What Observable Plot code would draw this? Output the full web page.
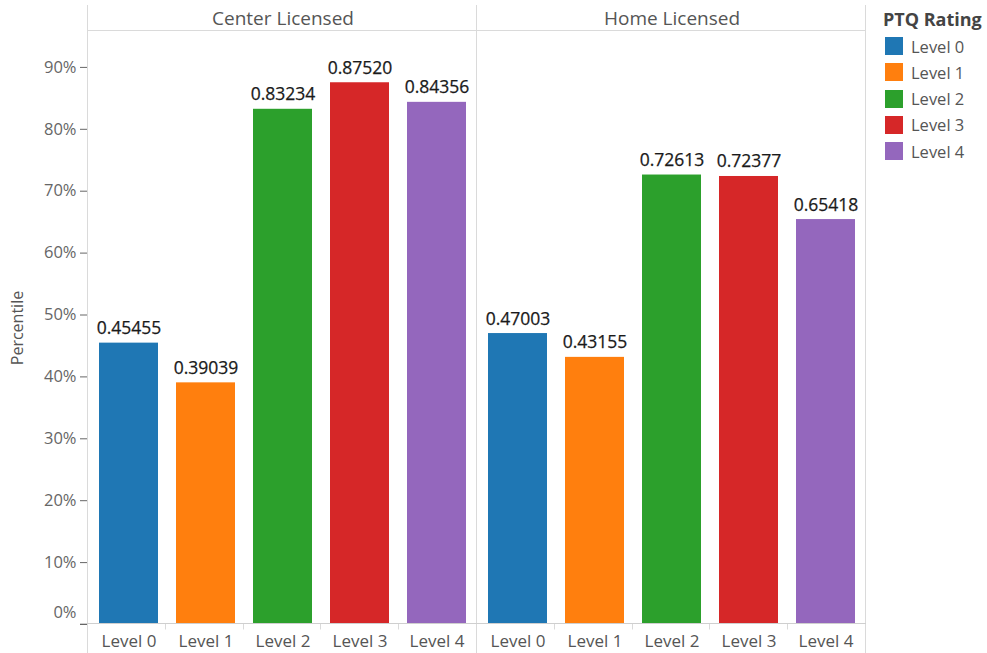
<!DOCTYPE html>
<html>
<head>
<meta charset="utf-8">
<script src="https://cdn.jsdelivr.net/npm/d3@7"></script>
<script src="https://cdn.jsdelivr.net/npm/@observablehq/plot@0.6"></script>
<style>
  body { margin: 0; background: #fff; font-family: "Open Sans", sans-serif; }
  #wrap { position: relative; width: 987px; height: 653px; overflow: hidden; }
  #chart { position: absolute; left: 0; top: 0; }
  #legend { position: absolute; left: 883px; top: 0; width: 104px; }
  .lg-title { position: absolute; left: 0; top: 7px; font-weight: 700; font-size: 18px; color: #444; white-space: nowrap; }
  .lg-item { position: absolute; left: 2px; height: 18px; display: flex; align-items: center; white-space: nowrap; }
  .lg-sw { width: 18px; height: 18px; margin-right: 8px; }
  .lg-lab { font-size: 16.5px; color: #555; }
</style>
</head>
<body>
<div id="wrap"><div id="chart"></div><div id="legend"></div></div>
<script>
// ---- data ----
const licenseTypes = ["Center Licensed", "Home Licensed"];
const levels = ["Level 0", "Level 1", "Level 2", "Level 3", "Level 4"];
const centerValues = [0.45455, 0.39039, 0.83234, 0.87520, 0.84356];
const homeValues = [0.47003, 0.43155, 0.72613, 0.72377, 0.65418];
const yTicks = [0, 0.1, 0.2, 0.3, 0.4, 0.5, 0.6, 0.7, 0.8, 0.9];
const levelColors = ["#1f77b4", "#ff7f0e", "#2ca02c", "#d62728", "#9467bd"];
const legendTitle = "PTQ Rating";
const yLabel = "Percentile";

const data = [];
levels.forEach((lv, i) => data.push({type: licenseTypes[0], level: lv, value: centerValues[i]}));
levels.forEach((lv, i) => data.push({type: licenseTypes[1], level: lv, value: homeValues[i]}));

const W = 867, H = 653;
const chart = Plot.plot({
  width: W, height: H,
  marginLeft: 87, marginRight: 1, marginTop: 31, marginBottom: 29,
  style: {fontFamily: "'Open Sans', sans-serif", background: "transparent", color: "#666", overflow: "visible"},
  fx: {domain: licenseTypes, padding: 0, label: null},
  x: {domain: levels, paddingInner: 0.24, paddingOuter: 0.12, label: null},
  y: {domain: [0, 0.958], label: yLabel},
  color: {domain: levels, range: levelColors},
  marks: [
    Plot.axisFx({anchor: "top", tickSize: 0, tickPadding: 7, label: null}),
    Plot.axisX({anchor: "bottom", tickSize: 0, tickPadding: 10, label: null}),
    Plot.axisY({anchor: "left", ticks: yTicks, tickFormat: d3.format(".0%"), tickSize: 8, tickPadding: 4,
      label: yLabel, labelAnchor: "center", labelArrow: "none", labelOffset: 77}),
    Plot.barY(data, {fx: "type", x: "level", y: "value", fill: "level"}),
    Plot.text(data, {fx: "type", x: "level", y: "value", text: d => d3.format(".5f")(d.value),
      lineAnchor: "bottom", dy: -9, fontSize: 17.5, fill: "#1a1a1a", stroke: "#1a1a1a", strokeWidth: 0.25})
  ]
});
document.getElementById("chart").appendChild(chart);

// ---- styling / chrome ----
const svg = d3.select(chart);
svg.selectAll("g[aria-label='fx-axis tick label']").attr("font-size", 19).attr("fill", "#555");
svg.selectAll("g[aria-label='x-axis tick label']").attr("font-size", 17).attr("fill", "#555");
svg.selectAll("g[aria-label='y-axis tick label']").attr("font-size", 16.5).attr("fill", "#666");
svg.selectAll("g[aria-label='y-axis label']").attr("font-size", 16).attr("fill", "#555");
svg.selectAll("g[aria-label='y-axis tick']").attr("stroke", "#d0d0d0");
svg.selectAll("g[aria-label='y-axis tick label'] text").each(function() {
  if (this.textContent === "0%") {
    const t = this.getAttribute("transform") || "";
    this.setAttribute("transform", t + " translate(0,-12)");
  }
});

const fx = chart.scale("fx");
const y = chart.scale("y");
const y0 = y.apply(0), yTop = y.range[1];
const left = fx.apply(licenseTypes[0]);
const right = fx.apply(licenseTypes[licenseTypes.length - 1]) + fx.bandwidth;
const g = svg.append("g").attr("stroke", "#dadada").attr("stroke-width", 1).attr("fill", "none");
const line = (x1, y1, x2, y2, c) => g.append("line").attr("x1", x1).attr("y1", y1).attr("x2", x2).attr("y2", y2).attr("stroke", c || null);
const px = v => Math.round(v) - 0.5;
line(px(left), 5, px(left), H);
licenseTypes.forEach(t => {
  const r = fx.apply(t) + fx.bandwidth;
  line(px(r), 5, px(r), H);
  for (let k = 1; k < levels.length; k++) {
    const bx = px(fx.apply(t) + k * fx.bandwidth / levels.length);
    line(bx, px(y0), bx, px(y0) + 6);
  }
});
line(left, px(yTop), right, px(yTop));
line(left - 8, px(y0), right, px(y0), "#cfcfcf");

// ---- legend ----
const lg = d3.select("#legend");
lg.append("div").attr("class", "lg-title").text(legendTitle);
levels.forEach((lv, i) => {
  const it = lg.append("div").attr("class", "lg-item").style("top", (37 + i * 26.3) + "px");
  it.append("div").attr("class", "lg-sw").style("background", levelColors[i]);
  it.append("div").attr("class", "lg-lab").text(lv);
});
</script>
</body>
</html>
